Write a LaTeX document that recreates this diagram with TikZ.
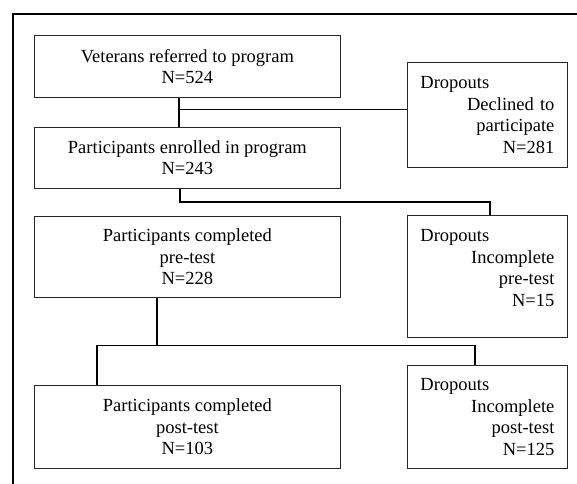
\documentclass[tikz,border=0pt]{standalone}
\usepackage{fontspec}
\setmainfont{Liberation Serif}
\usetikzlibrary{positioning}
\tikzset{%
  stage/.style = {rectangle,draw=black!85,line width=0.8pt,align=center,
        minimum width=306pt,anchor=north west,inner sep=0pt},
  drop/.style = {rectangle,draw=black!85,line width=0.8pt,align=left,
        text width=134pt,anchor=north west,inner xsep=13pt,inner ysep=0pt},
  link/.style = {line width=1.3pt},
  thinlink/.style = {line width=0.8pt}
}

\begin{document}
\begin{tikzpicture}[x=1pt,y=-1pt,font=\fontsize{18.5pt}{21.5pt}\selectfont]
   \useasboundingbox (0,0) rectangle (577,483);
   % outer frame
   \draw[line width=1.8pt] (580,14) -- (12.7,14) -- (12.7,486);

   \node[stage,minimum height=62pt] (veterans) at (34,35) {Veterans referred to program\\N=524};
   \node[stage,minimum height=61pt] (enrolled) at (34,127) {Participants enrolled in program\\N=243};
   \node[stage,minimum height=81pt] (pretest) at (34,216) {Participants completed\\pre-test\\N=228};
   \node[stage,minimum height=83pt] (posttest) at (34,385) {Participants completed\\post-test\\N=103};

   \node[drop,minimum height=105pt] (declined) at (407,62)
      {Dropouts\\\hspace*{\fill}Declined to\\\hspace*{\fill}participate\\\hspace*{\fill}N=281};
   \node[drop,minimum height=122pt,text depth=81pt] (droppre) at (407,215)
      {Dropouts\\\hspace*{\fill}Incomplete\\\hspace*{\fill}pre-test\\\hspace*{\fill}N=15};
   \node[drop,minimum height=103pt] (droppost) at (407,365)
      {Dropouts\\\hspace*{\fill}Incomplete\\\hspace*{\fill}post-test\\\hspace*{\fill}N=125};

   \coordinate (split1) at (179,109);
   \coordinate (split2) at (180,202);
   \coordinate (corner2) at (490,202);
   \coordinate (split3) at (157,345);
   \coordinate (left3) at (97,345);
   \coordinate (right3) at (475,345);

   \draw[link] (veterans.south -| split1) -- (enrolled.north -| split1);
   \draw[thinlink] (split1) -- (split1 -| declined.west);

   \draw[link] (enrolled.south -| split2) -- (split2) -- (corner2) -- (corner2 |- droppre.north);

   \draw[link] (pretest.south -| split3) -- (split3);
   \draw[thinlink] (left3) -- (right3);
   \draw[link] (left3) -- (left3 |- posttest.north);
   \draw[link] (right3) -- (right3 |- droppost.north);
\end{tikzpicture}
\end{document}
